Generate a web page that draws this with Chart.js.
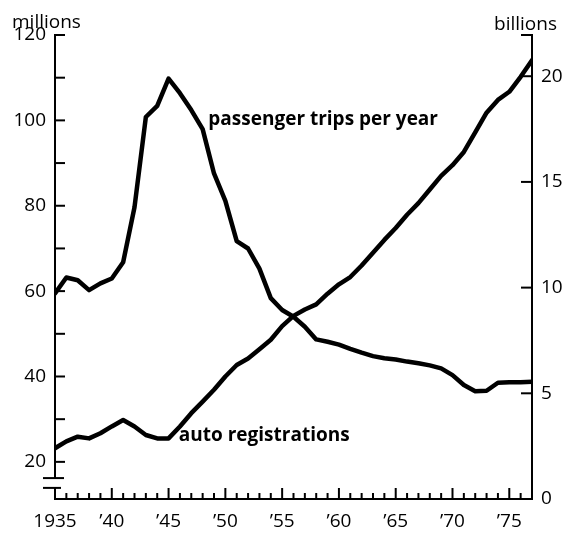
<!DOCTYPE html>
<html>
<head>
<meta charset="utf-8">
<script src="https://cdn.jsdelivr.net/npm/chart.js@4.4.1/dist/chart.umd.min.js"></script>
<style>
  html, body { margin: 0; padding: 0; background: #fff; }
</style>
</head>
<body>
<canvas id="chart" width="569" height="534"></canvas>
<script>
// years on the x axis
const years = [
  1935, 1936, 1937, 1938, 1939, 1940, 1941, 1942, 1943, 1944,
  1945, 1946, 1947, 1948, 1949, 1950, 1951, 1952, 1953, 1954,
  1955, 1956, 1957, 1958, 1959, 1960, 1961, 1962, 1963, 1964,
  1965, 1966, 1967, 1968, 1969, 1970, 1971, 1972, 1973, 1974,
  1975, 1976, 1977
];

// auto registrations, millions (left axis)
const autoRegistrations = [
  23.2, 24.8, 25.9, 25.5, 26.7, 28.3, 29.8, 28.3, 26.3, 25.5,
  25.5, 28.3, 31.4, 34.1, 36.9, 40.0, 42.7, 44.2, 46.4, 48.6,
  51.8, 54.2, 55.7, 56.9, 59.4, 61.6, 63.3, 66.0, 69.0, 72.0,
  74.8, 77.9, 80.6, 83.8, 87.0, 89.5, 92.6, 97.2, 101.8, 104.8,
  106.7, 110.2, 114.1
];

// transit passenger trips per year, billions (right axis)
const passengerTrips = [
  9.73, 10.48, 10.35, 9.88, 10.2, 10.43, 11.2, 13.8, 18.07, 18.6,
  19.89, 19.2, 18.4, 17.5, 15.4, 14.1, 12.2, 11.85, 10.9, 9.5,
  8.94, 8.62, 8.15, 7.55, 7.44, 7.3, 7.1, 6.92, 6.76, 6.66,
  6.6, 6.5, 6.42, 6.32, 6.18, 5.86, 5.39, 5.1, 5.12, 5.5,
  5.52, 5.52, 5.55
];

// tick values and labels
const leftTickValues = [20, 30, 40, 50, 60, 70, 80, 90, 100, 110, 120];
const leftTickLabels = [20, 40, 60, 80, 100, 120];
const rightTickValues = [0, 5, 10, 15, 20];
const xLabelYears = [1935, 1940, 1945, 1950, 1955, 1960, 1965, 1970, 1975];
const xLabels = ['1935', '\u201940', '\u201945', '\u201950', '\u201955', '\u201960', '\u201965', '\u201970', '\u201975'];

// series labels placed in data units (year, left-axis value)
const seriesNotes = [
  { text: 'passenger trips per year', year: 1948.5, value: 98.9 },
  { text: 'auto registrations', year: 1945.9, value: 24.9 }
];

// left axis break drawn between these values
const leftBreak = [13.9, 16.2];

const FONT = '"Open Sans", "DejaVu Sans", sans-serif';

const axisDecor = {
  id: 'axisDecor',
  afterDraw(chart) {
    const ctx = chart.ctx;
    const { x, y, y1 } = chart.scales;
    const area = chart.chartArea;
    const lx = area.left, rx = area.right, by = area.bottom;
    const seg = (ax, ay, bx, bY) => {
      ctx.beginPath();
      ctx.moveTo(ax, ay);
      ctx.lineTo(bx, bY);
      ctx.stroke();
    };
    ctx.save();
    ctx.strokeStyle = '#000';
    ctx.lineWidth = 2;

    // x axis and inward ticks
    seg(lx - 1, by, rx + 1, by);
    x.ticks.forEach(t => {
      const px = x.getPixelForValue(t.value);
      seg(px, by, px, by - (t.value % 5 === 0 ? 11 : 6));
    });

    // left axis with break
    const top = y.getPixelForValue(y.max);
    const bTop = y.getPixelForValue(leftBreak[1]);
    const bBot = y.getPixelForValue(leftBreak[0]);
    seg(lx, top - 1, lx, bTop);
    seg(lx, bBot, lx, by);
    seg(lx - 12, bTop, lx + 9, bTop);
    seg(lx - 12, bBot, lx + 6, bBot);
    y.ticks.forEach(t => {
      const py = y.getPixelForValue(t.value);
      seg(lx, py, lx + 10, py);
    });

    // right axis and inward ticks
    seg(rx, area.top - 1, rx, by + 1);
    seg(rx, area.top, rx - 11, area.top);
    y1.ticks.forEach(t => {
      if (t.value === 0) return;
      const py = y1.getPixelForValue(t.value);
      seg(rx, py, rx - 11, py);
    });

    // axis unit titles
    ctx.fillStyle = '#000';
    ctx.font = '19px ' + FONT;
    ctx.textBaseline = 'alphabetic';
    ctx.textAlign = 'left';
    ctx.fillText('millions', 12, 28);
    ctx.textAlign = 'right';
    ctx.fillText('billions', 557, 30);

    // series labels
    ctx.font = 'bold 19px ' + FONT;
    ctx.textAlign = 'left';
    seriesNotes.forEach(n => {
      ctx.fillText(n.text, x.getPixelForValue(n.year), y.getPixelForValue(n.value));
    });
    ctx.restore();
  }
};

const tickFont = { family: FONT, size: 19 };

new Chart(document.getElementById('chart').getContext('2d'), {
  type: 'line',
  data: {
    datasets: [
      {
        label: 'passenger trips per year',
        data: years.map((yr, i) => ({ x: yr, y: passengerTrips[i] })),
        yAxisID: 'y1',
        borderColor: '#000',
        borderWidth: 4.5,
        pointRadius: 0,
        tension: 0,
        borderJoinStyle: 'round',
        borderCapStyle: 'round'
      },
      {
        label: 'auto registrations',
        data: years.map((yr, i) => ({ x: yr, y: autoRegistrations[i] })),
        yAxisID: 'y',
        borderColor: '#000',
        borderWidth: 4.5,
        pointRadius: 0,
        tension: 0,
        borderJoinStyle: 'round',
        borderCapStyle: 'round'
      }
    ]
  },
  options: {
    responsive: false,
    animation: false,
    devicePixelRatio: 1,
    layout: { padding: { top: 35, left: 0, right: 0, bottom: 0 } },
    plugins: { legend: { display: false }, tooltip: { enabled: false } },
    scales: {
      x: {
        type: 'linear',
        min: 1935,
        max: 1977,
        afterFit: s => { s.height = 35; },
        afterBuildTicks: s => { s.ticks = years.map(v => ({ value: v })); },
        grid: { display: false, drawTicks: false },
        border: { display: false },
        ticks: {
          autoSkip: false,
          maxRotation: 0,
          padding: 11,
          color: '#000',
          font: tickFont,
          callback: v => {
            const i = xLabelYears.indexOf(v);
            return i >= 0 ? xLabels[i] : '';
          }
        }
      },
      y: {
        position: 'left',
        min: 11.3,
        max: 120,
        afterFit: s => { s.width = 55; },
        afterBuildTicks: s => { s.ticks = leftTickValues.map(v => ({ value: v })); },
        grid: { display: false, drawTicks: false },
        border: { display: false },
        ticks: {
          padding: 9,
          color: '#000',
          font: tickFont,
          callback: v => leftTickLabels.includes(v) ? String(v) : ''
        }
      },
      y1: {
        position: 'right',
        min: 0,
        max: 21.95,
        afterFit: s => { s.width = 37; },
        afterBuildTicks: s => { s.ticks = rightTickValues.map(v => ({ value: v })); },
        grid: { display: false, drawTicks: false },
        border: { display: false },
        ticks: {
          padding: 9,
          color: '#000',
          font: tickFont
        }
      }
    }
  },
  plugins: [axisDecor]
});
</script>
</body>
</html>
